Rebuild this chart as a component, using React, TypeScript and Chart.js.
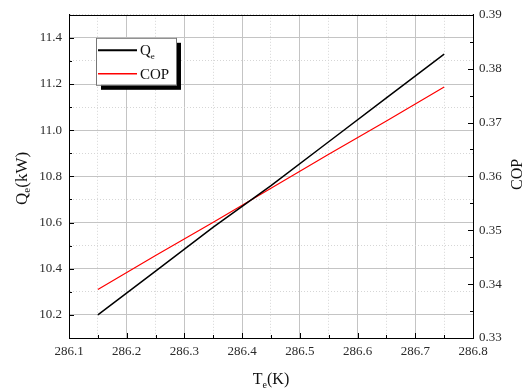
import React, { useEffect, useRef } from "react";
import { Chart, registerables } from "chart.js";

Chart.register(...registerables);

// ---- data ----
const TE = [286.15, 286.25, 286.35, 286.45, 286.55, 286.65, 286.75];
const QE = [10.2, 10.39, 10.58, 10.76, 10.95, 11.14, 11.33];
const COP = [0.339, 0.3453, 0.3515, 0.3578, 0.3641, 0.3703, 0.3766];

const SERIES_LABELS = ["Q_{e}", "COP"];
const SERIES_COLORS = ["#000000", "#ff0000"];

const X_TICKS = [286.1, 286.15, 286.2, 286.25, 286.3, 286.35, 286.4, 286.45, 286.5, 286.55, 286.6, 286.65, 286.7, 286.75, 286.8];
const Y_TICKS = [10.1, 10.2, 10.3, 10.4, 10.5, 10.6, 10.7, 10.8, 10.9, 11.0, 11.1, 11.2, 11.3, 11.4, 11.5];
const Y2_TICKS = [0.33, 0.335, 0.34, 0.345, 0.35, 0.355, 0.36, 0.365, 0.37, 0.375, 0.38, 0.385, 0.39];

const X_TITLE = "T_{e}(K)";
const Y_TITLE = "Q_{e}(kW)";
const Y2_TITLE = "COP";

const FONT = "'Liberation Serif', 'Times New Roman', serif";

const isMajorX = (v: number) => Math.round(v * 100) % 10 === 0;
const isMajorY = (v: number) => Math.round(v * 10) % 2 === 0;
const isMajorY2 = (v: number) => Math.round(v * 1000) % 10 === 0;

function parseRich(text: string) {
  const parts: { t: string; sub: boolean }[] = [];
  const re = /_\{([^}]*)\}/g;
  let last = 0;
  let m: RegExpExecArray | null;
  while ((m = re.exec(text))) {
    if (m.index > last) parts.push({ t: text.slice(last, m.index), sub: false });
    parts.push({ t: m[1], sub: true });
    last = m.index + m[0].length;
  }
  if (last < text.length) parts.push({ t: text.slice(last), sub: false });
  return parts;
}

function drawRich(ctx: CanvasRenderingContext2D, text: string, x: number, y: number, size: number, align: "left" | "center") {
  const parts = parseRich(text);
  const subSize = Math.round(size * 0.62);
  let total = 0;
  const widths = parts.map((p) => {
    ctx.font = `${p.sub ? subSize : size}px ${FONT}`;
    const w = ctx.measureText(p.t).width;
    total += w;
    return w;
  });
  let cx = align === "center" ? x - total / 2 : x;
  ctx.textAlign = "left";
  ctx.textBaseline = "alphabetic";
  const base = y + size * 0.33;
  parts.forEach((p, i) => {
    ctx.font = `${p.sub ? subSize : size}px ${FONT}`;
    ctx.fillText(p.t, cx, p.sub ? base + size * 0.22 : base);
    cx += widths[i];
  });
}

const decorPlugin = {
  id: "decor",
  afterDraw(chart: any) {
    const ctx: CanvasRenderingContext2D = chart.ctx;
    const a = chart.chartArea;
    ctx.save();
    ctx.strokeStyle = "#000";
    ctx.lineWidth = 1;
    // top frame line
    ctx.beginPath();
    ctx.moveTo(a.left, Math.round(a.top) + 0.5);
    ctx.lineTo(a.right, Math.round(a.top) + 0.5);
    ctx.stroke();

    // inward ticks
    const xs = chart.scales.x;
    xs.ticks.forEach((t: any) => {
      const p = Math.round(xs.getPixelForValue(t.value)) + 0.5;
      const len = isMajorX(t.value) ? 5 : 3;
      ctx.beginPath();
      ctx.moveTo(p, a.bottom);
      ctx.lineTo(p, a.bottom - len);
      ctx.stroke();
    });
    const ys = chart.scales.y;
    ys.ticks.forEach((t: any) => {
      const p = Math.round(ys.getPixelForValue(t.value)) + 0.5;
      const len = isMajorY(t.value) ? 5 : 3;
      ctx.beginPath();
      ctx.moveTo(a.left, p);
      ctx.lineTo(a.left + len, p);
      ctx.stroke();
    });
    const y2 = chart.scales.y2;
    y2.ticks.forEach((t: any) => {
      const p = Math.round(y2.getPixelForValue(t.value)) + 0.5;
      const len = isMajorY2(t.value) ? 5 : 3;
      ctx.beginPath();
      ctx.moveTo(a.right, p);
      ctx.lineTo(a.right - len, p);
      ctx.stroke();
    });

    // axis titles
    ctx.fillStyle = "#111";
    drawRich(ctx, X_TITLE, (a.left + a.right) / 2, a.bottom + 41, 16, "center");
    ctx.save();
    ctx.translate(a.left - 48, (a.top + a.bottom) / 2 + 2);
    ctx.rotate(-Math.PI / 2);
    drawRich(ctx, Y_TITLE, 0, 0, 17, "center");
    ctx.restore();
    ctx.save();
    ctx.translate(a.right + 44, (a.top + a.bottom) / 2 - 2);
    ctx.rotate(-Math.PI / 2);
    drawRich(ctx, Y2_TITLE, 0, 0, 16, "center");
    ctx.restore();

    // legend with shadow
    const L = a.left + 27;
    const T = a.top + 23;
    const W = 80;
    const H = 47;
    ctx.fillStyle = "#000";
    ctx.fillRect(L + 5, T + 5, W, H);
    ctx.fillStyle = "#fff";
    ctx.fillRect(L, T, W, H);
    ctx.strokeStyle = "#777";
    ctx.lineWidth = 1;
    ctx.strokeRect(L + 0.5, T + 0.5, W, H);
    chart.data.datasets.forEach((ds: any, i: number) => {
      const yy = T + 12.5 + i * 23.5;
      ctx.strokeStyle = ds.borderColor;
      ctx.lineWidth = i === 0 ? 2 : 1.4;
      ctx.beginPath();
      ctx.moveTo(L + 2, yy);
      ctx.lineTo(L + 41, yy);
      ctx.stroke();
      ctx.fillStyle = "#111";
      drawRich(ctx, ds.label, L + 44, yy, 15, "left");
    });
    ctx.restore();
  },
};

export default function App() {
  const ref = useRef<HTMLCanvasElement>(null);
  useEffect(() => {
    if (!ref.current) return;
    const tickFont = { family: FONT, size: 13 };
    const chart = new Chart(ref.current, {
      type: "line",
      data: {
        datasets: [
          {
            label: SERIES_LABELS[0],
            data: TE.map((x, i) => ({ x, y: QE[i] })),
            borderColor: SERIES_COLORS[0],
            borderWidth: 1.5,
            pointRadius: 0,
            yAxisID: "y",
          },
          {
            label: SERIES_LABELS[1],
            data: TE.map((x, i) => ({ x, y: COP[i] })),
            borderColor: SERIES_COLORS[1],
            borderWidth: 1.2,
            pointRadius: 0,
            yAxisID: "y2",
          },
        ],
      },
      options: {
        animation: false,
        responsive: false,
        layout: { padding: { top: 12, left: 0, right: 0, bottom: 0 } },
        plugins: { legend: { display: false }, tooltip: { enabled: false } },
        scales: {
          x: {
            type: "linear",
            min: 286.1,
            max: 286.8,
            afterBuildTicks: (s: any) => {
              s.ticks = X_TICKS.map((value) => ({ value }));
            },
            afterFit: (s: any) => {
              s.height = 54;
            },
            ticks: {
              autoSkip: false,
              maxRotation: 0,
              padding: 6,
              color: "#2a2a2a",
              font: tickFont,
              callback: (v: any) => (isMajorX(v) ? Number(v).toFixed(1) : ""),
            },
            grid: {
              drawTicks: false,
              color: (c: any) => (c.tick && isMajorX(c.tick.value) ? "#c4c4c4" : "#d6d6d6"),
              lineWidth: 1,
            },
            border: {
              color: "#000",
              width: 1,
              dash: (c: any) => (c.tick && !isMajorX(c.tick.value) ? [1, 2] : []),
            },
          },
          y: {
            type: "linear",
            position: "left",
            min: 10.1,
            max: 11.5,
            afterBuildTicks: (s: any) => {
              s.ticks = Y_TICKS.map((value) => ({ value }));
            },
            afterFit: (s: any) => {
              s.width = 69;
            },
            ticks: {
              autoSkip: false,
              padding: 7,
              color: "#2a2a2a",
              font: tickFont,
              callback: (v: any) => (isMajorY(v) ? Number(v).toFixed(1) : ""),
            },
            grid: {
              drawTicks: false,
              color: (c: any) => (c.tick && isMajorY(c.tick.value) ? "#c4c4c4" : "#d6d6d6"),
              lineWidth: 1,
            },
            border: {
              color: "#000",
              width: 1,
              dash: (c: any) => (c.tick && !isMajorY(c.tick.value) ? [1, 2] : []),
            },
          },
          y2: {
            type: "linear",
            position: "right",
            min: 0.33,
            max: 0.39,
            afterBuildTicks: (s: any) => {
              s.ticks = Y2_TICKS.map((value) => ({ value }));
            },
            afterFit: (s: any) => {
              s.width = 53;
            },
            ticks: {
              autoSkip: false,
              padding: 6,
              color: "#2a2a2a",
              font: tickFont,
              callback: (v: any) => (isMajorY2(v) ? Number(v).toFixed(2) : ""),
            },
            grid: { drawTicks: false, drawOnChartArea: false },
            border: { color: "#000", width: 1 },
          },
        },
      },
      plugins: [decorPlugin],
    } as any);
    return () => chart.destroy();
  }, []);
  return (
    <div style={{ position: "fixed", left: 0, top: 0, width: 526, height: 392, background: "#fff" }}>
      <canvas ref={ref} width={526} height={392} style={{ display: "block" }} />
    </div>
  );
}
